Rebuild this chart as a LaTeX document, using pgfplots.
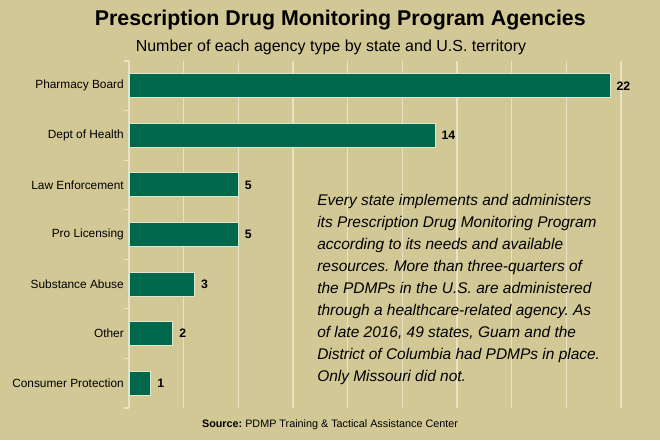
\documentclass[border=0pt]{standalone}
\usepackage{fontspec}
\setmainfont{Liberation Sans}
\usepackage{pgfplots}
\pgfplotsset{compat=1.18}
\frenchspacing
\definecolor{bg}{HTML}{D2C896}
\definecolor{bargreen}{HTML}{00684A}
\definecolor{gridc}{HTML}{E8E3C6}
\definecolor{barborder}{HTML}{DDE6CF}
\begin{document}
\begin{tikzpicture}[x=1pt,y=1pt]
\fill[bg] (-96.75,-24) rectangle (398.25,306);
\begin{axis}[
  at={(0,0)}, anchor=south west,
  scale only axis, width=377.2pt, height=260.25pt,
  xmin=0, xmax=23, ymin=-0.5, ymax=6.5,
  xbar, bar width=18pt, clip=false,
  xtick={0,2.5,...,22.5}, xticklabels={},
  xmajorgrids, major grid style={draw=gridc, line width=0.8pt},
  x tick style={draw=none},
  ytick={0,...,6},
  yticklabels={Consumer Protection, Other, Substance Abuse, Pro Licensing, Law Enforcement, Dept of Health, Pharmacy Board},
  y tick style={draw=gridc, line width=0.8pt},
  major tick length=0pt,
  extra y ticks={-0.5,0.5,1.5,2.5,3.5,4.5,5.5,6.5},
  extra y tick labels={},
  extra y tick style={tick align=outside, major tick length=3.75pt, ymajorgrids=false},
  axis lines*=left,
  x axis line style={draw=none},
  y axis line style={draw=gridc, line width=0.8pt},
  yticklabel style={font=\fontsize{8.9}{10}\selectfont, inner sep=0pt, xshift=-3.75pt},
  /pgf/number format/assume math mode=true,
  point meta=x,
  nodes near coords,
  nodes near coords style={font=\fontsize{9.2}{10}\selectfont\bfseries, anchor=west, inner sep=0pt, xshift=4.5pt},
]
\addplot[fill=bargreen, draw=barborder, line width=0.8pt] coordinates {(1,0) (2,1) (3,2) (5,3) (5,4) (14,5) (22,6)};
\end{axis}
\node[font=\fontsize{16}{19}\selectfont\bfseries] at (158.5,291) {Prescription Drug Monitoring Program Agencies};
\node[font=\fontsize{12}{14}\selectfont] at (151.5,270.75) {Number of each agency type by state and U.S. territory};
\node[font=\fontsize{8.1}{10}\selectfont] at (150.75,-12.75) {\textbf{Source:} PDMP Training \& Tactical Assistance Center};
\begin{scope}[every node/.style={anchor=base west, inner sep=0pt, font=\fontsize{11.6}{13}\selectfont\itshape}]
\node at (141,152.25) {Every state implements and administers};
\node at (141,135.75) {its Prescription Drug Monitoring Program};
\node at (141,119.25) {according to its needs and available};
\node at (141,102.75) {resources. More than three-quarters of};
\node at (141,86.25) {the PDMPs in the U.S. are administered};
\node at (141,69.75) {through a healthcare-related agency. As};
\node at (141,53.25) {of late 2016, 49 states, Guam and the};
\node at (141,36.75) {District of Columbia had PDMPs in place.};
\node at (141,20.25) {Only Missouri did not.};
\end{scope}
\end{tikzpicture}
\end{document}
